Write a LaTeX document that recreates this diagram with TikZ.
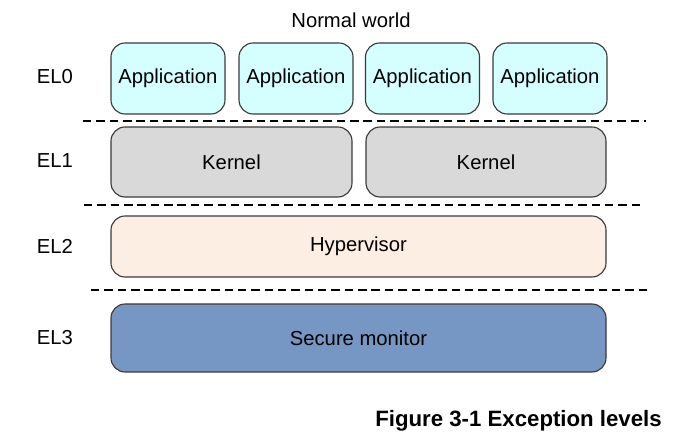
\documentclass[tikz,border=0pt]{standalone}
\usepackage{fontspec}
\setmainfont{Liberation Sans}
\definecolor{appfill}{HTML}{D5FFFF}
\definecolor{kernfill}{HTML}{D9D9D9}
\definecolor{hypfill}{HTML}{FCEEE3}
\definecolor{secfill}{HTML}{7697C3}
\definecolor{boxline}{HTML}{3A3A3A}
\tikzset{
  levelbox/.style={draw=boxline, line width=0.8pt, rounded corners=10pt,
    inner sep=0pt, font=\fontsize{14.4}{16}\selectfont},
  appbox/.style={levelbox, fill=appfill, minimum width=2.85cm, minimum height=1.775cm},
  kernbox/.style={levelbox, fill=kernfill, minimum height=1.75cm},
  widebox/.style={levelbox, minimum width=12.375cm},
  ellabel/.style={font=\fontsize{14.4}{16}\selectfont},
  levelsep/.style={line width=0.9pt, dash pattern=on 6pt off 3.5pt}
}
\begin{document}
\begin{tikzpicture}
    \useasboundingbox (0,0) rectangle (17.35,11.15);
    \node[ellabel] (world) at (8.775,10.65) {Normal world};
    % EL0
    \node[ellabel] (el0) at (1.375,9.225) {EL0};
    \node[appbox] (app1) at (4.2,9.1875) {Application};
    \node[appbox] (app2) at (7.4,9.1875) {Application};
    \node[appbox] (app3) at (10.5625,9.1875) {Application};
    \node[appbox] (app4) at (13.75,9.1875) {Application};
    \draw[levelsep] (2.075,8.125) -- (16.15,8.125);
    % EL1
    \node[ellabel] (el1) at (1.375,7.125) {EL1};
    \node[kernbox, minimum width=6.025cm] (kern1) at (5.7875,7.1) {Kernel};
    \node[kernbox, minimum width=6cm] (kern2) at (12.15,7.1) {Kernel};
    \draw[levelsep] (2.1,6.025) -- (16.0,6.025);
    % EL2
    \node[ellabel] (el2) at (1.375,5.0) {EL2};
    \node[widebox, fill=hypfill, minimum height=1.525cm] (hyp) at (8.9625,4.9875) {Hypervisor};
    \draw[levelsep] (2.275,3.9) -- (16.175,3.9);
    % EL3
    \node[ellabel] (el3) at (1.375,2.7) {EL3};
    \node[widebox, fill=secfill, minimum height=1.7cm] (sec) at (8.9625,2.7) {Secure monitor};
    \node[anchor=east, inner sep=0pt, font=\fontsize{15.8}{18}\selectfont\bfseries] (caption) at (16.55,0.625) {Figure 3-1 Exception levels};
\end{tikzpicture}
\end{document}
